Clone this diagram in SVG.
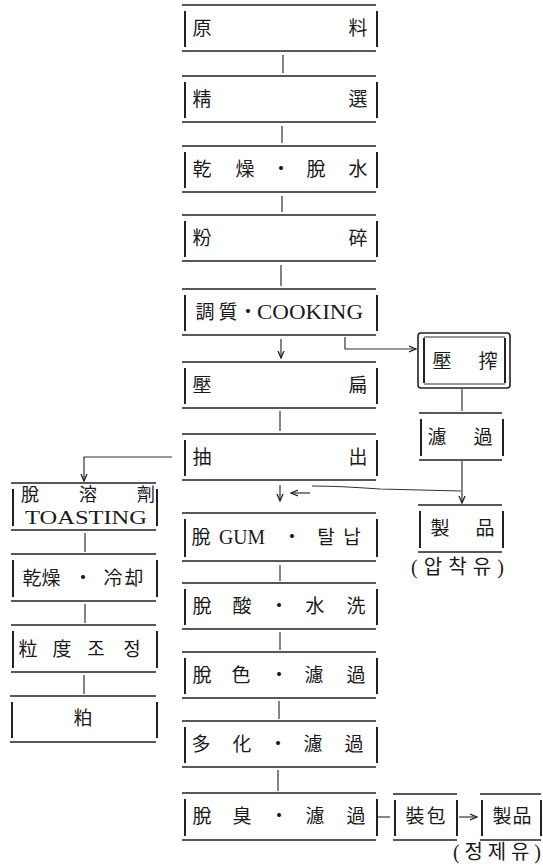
<svg xmlns="http://www.w3.org/2000/svg" width="543" height="865" viewBox="0 0 543 865">
<defs>
<style>
.bx{fill:none;stroke:#222;stroke-width:1.6}
.sd{fill:none;stroke:#222;stroke-width:2}
.ln{fill:none;stroke:#333;stroke-width:1.2}
.t{font-family:"Liberation Serif","Noto Sans CJK KR",serif;font-size:19px;fill:#1a1a1a;text-anchor:middle}
.e{font-family:"Liberation Serif","Noto Sans CJK KR",serif;font-size:20px;fill:#1a1a1a}
.k{font-family:"Liberation Serif","Noto Sans CJK KR",serif;font-size:20px;fill:#1a1a1a}
</style>
<marker id="ar" markerWidth="8" markerHeight="8" refX="7" refY="4" orient="auto" markerUnits="userSpaceOnUse">
<path d="M0,1 L7,4 L0,7" fill="none" stroke="#222" stroke-width="1.3"/>
</marker>
</defs>
<rect width="543" height="865" fill="#fff"/>

<g id="n-wonryo"><path class="bx" d="M182,5 H376 M182,51 H376"/><path class="sd" d="M185,11 V47 M377,11 V47"/><text class="t" x="202 358" y="35">原料</text></g>
<g id="n-jeongseon"><path class="bx" d="M182,76 H376 M182,122 H376"/><path class="sd" d="M185,82 V118 M377,82 V118"/><text class="t" x="202 358" y="106">精選</text></g>
<g id="n-geonjo"><path class="bx" d="M182,146 H376 M182,192 H376"/><path class="sd" d="M185,152 V188 M377,152 V188"/><text class="t" x="202 245 281 316 358" y="176">乾燥・脫水</text></g>
<g id="n-bunswae"><path class="bx" d="M182,215 H376 M182,261 H376"/><path class="sd" d="M185,221 V257 M377,221 V257"/><text class="t" x="202 358" y="245">粉碎</text></g>
<g id="n-josil"><path class="bx" d="M182,289 H376 M182,335 H376"/><path class="sd" d="M185,295 V331 M377,295 V331"/><text class="t" x="205 228 248" y="319">調質・</text><text class="e" x="257" y="319" textLength="106" lengthAdjust="spacingAndGlyphs">COOKING</text></g>
<g id="n-apyeon"><path class="bx" d="M182,362 H376 M182,408 H376"/><path class="sd" d="M185,368 V404 M377,368 V404"/><text class="t" x="202 358" y="392">壓扁</text></g>
<g id="n-chulchul"><path class="bx" d="M182,434 H376 M182,480 H376"/><path class="sd" d="M185,440 V476 M377,440 V476"/><text class="t" x="202 358" y="464">抽出</text></g>
<g id="n-talgum"><path class="bx" d="M182,513 H376 M182,561 H376"/><path class="sd" d="M185,519 V557 M377,519 V557"/><text class="t" x="201" y="544">脫</text><text class="e" x="219" y="544" textLength="46" lengthAdjust="spacingAndGlyphs">GUM</text><text class="t" x="292 326 352" y="544">・탈납</text></g>
<g id="n-talsan"><path class="bx" d="M182,583 H376 M182,629 H376"/><path class="sd" d="M185,589 V625 M377,589 V625"/><text class="t" x="202 242 279 315 356" y="613">脫酸・水洗</text></g>
<g id="n-talsaek"><path class="bx" d="M182,652 H376 M182,698 H376"/><path class="sd" d="M185,658 V694 M377,658 V694"/><text class="t" x="202 241 279 314 356" y="682">脫色・濾過</text></g>
<g id="n-dahwa"><path class="bx" d="M182,721 H376 M182,767 H376"/><path class="sd" d="M185,727 V763 M377,727 V763"/><text class="t" x="201 242 278 313 354" y="751">多化・濾過</text></g>
<g id="n-taljwi"><path class="bx" d="M182,793 H376 M182,840 H376"/><path class="sd" d="M185,799 V836 M377,799 V836"/><text class="t" x="202 242 279 315 356" y="823">脫臭・濾過</text></g>

<g id="n-apjak"><rect class="bx" x="418" y="333" width="92" height="55" rx="3"/><path class="sd" d="M424,338 V383 M505,338 V383"/><path class="ln" d="M424,337 H505 M424,384 H505"/><text class="t" x="442 488" y="368">壓搾</text></g>
<g id="n-yeogwa"><path class="bx" d="M419,413 H502 M419,460 H502"/><path class="sd" d="M421,419 V456 M503,419 V456"/><text class="t" x="437 483" y="444">濾過</text></g>
<g id="n-jepum1"><path class="bx" d="M418,505 H502 M418,552 H502"/><path class="sd" d="M420,511 V548 M503,511 V548"/><text class="t" x="440 485" y="535">製品</text><text class="k" x="411" y="574" textLength="93" lengthAdjust="spacing">(압착유)</text></g>

<g id="n-talyongje"><path class="bx" d="M11,483 H156 M11,530 H156"/><path class="sd" d="M13,489 V526 M157,489 V526"/><text class="t" x="30 88 146" y="501" style="font-size:18px">脫溶劑</text><text class="e" x="25" y="524" textLength="122" lengthAdjust="spacingAndGlyphs" style="font-size:19px">TOASTING</text></g>
<g id="n-geonjo2"><path class="bx" d="M11,554 H156 M11,601 H156"/><path class="sd" d="M13,560 V597 M157,560 V597"/><text class="t" x="32 51 83 113 134" y="585">乾燥・冷却</text></g>
<g id="n-ipdo"><path class="bx" d="M11,625 H156 M11,672 H156"/><path class="sd" d="M13,631 V668 M157,631 V668"/><text class="t" x="28 62 96 132" y="656">粒度조정</text></g>
<g id="n-bak"><path class="bx" d="M10,696 H156 M10,742 H156"/><path class="sd" d="M12,702 V738 M157,702 V738"/><text class="t" x="83" y="725">粕</text></g>

<g id="n-jangpo"><path class="bx" d="M393,794 H457 M393,840 H457"/><path class="sd" d="M395,800 V836 M457,800 V836"/><text class="t" x="415 436" y="823">裝包</text></g>
<g id="n-jepum2"><path class="bx" d="M480,794 H541 M480,840 H541"/><path class="sd" d="M482,800 V836 M541,800 V836"/><text class="t" x="502 522" y="823">製品</text><text class="k" x="453" y="859" textLength="88" lengthAdjust="spacing">(정제유)</text></g>

<g id="connectors">
<path class="ln" d="M283,55 V73"/>
<path class="ln" d="M282,126 V143"/>
<path class="ln" d="M282,196 V212"/>
<path class="ln" d="M281,265 V286"/>
<path class="ln" d="M281,339 V358" marker-end="url(#ar)"/>
<path class="ln" d="M345,337 V349 H416" marker-end="url(#ar)"/>
<path class="ln" d="M462,389 V411"/>
<path class="ln" d="M280,411 V431"/>
<path class="ln" d="M172,457 H84 V481" marker-end="url(#ar)"/>
<path class="ln" d="M280,485 V501" marker-end="url(#ar)"/>
<path class="ln" d="M462,461 V503" marker-end="url(#ar)"/>
<path class="ln" d="M461,491 L380,489 Q340,486 312,486"/>
<path class="ln" d="M310,493 H291" marker-end="url(#ar)"/>
<path class="ln" d="M280,565 V581"/>
<path class="ln" d="M280,632 V650"/>
<path class="ln" d="M279,701 V719"/>
<path class="ln" d="M278,770 V791"/>
<path class="ln" d="M85,533 V552"/>
<path class="ln" d="M85,604 V623"/>
<path class="ln" d="M84,675 V694"/>
<path class="ln" d="M378,817 H390"/>
<path class="ln" d="M459,817 H477" marker-end="url(#ar)"/>
</g>
</svg>
